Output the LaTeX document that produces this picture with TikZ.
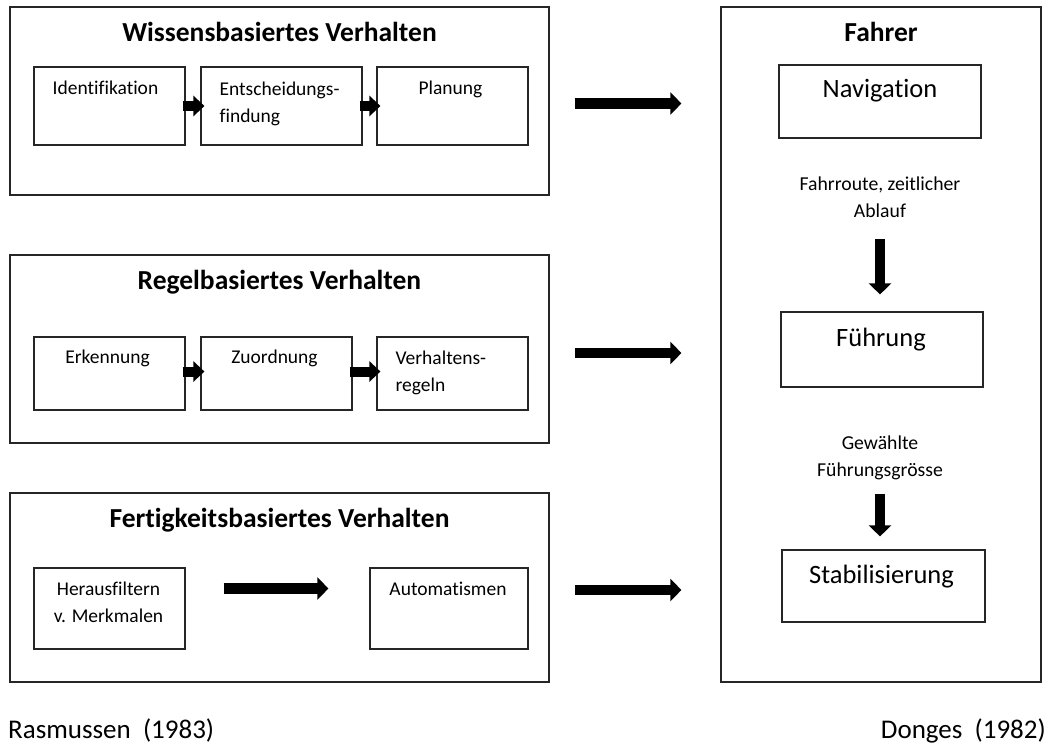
\documentclass[tikz,border=0pt]{standalone}
\usepackage{fontspec}
\setmainfont{Carlito}[Ligatures=CommonOff]
\usetikzlibrary{arrows.meta,calc}
\begin{document}
\begin{tikzpicture}[x=1pt,y=-1pt,
  box/.style={draw=black!85,line width=1.2pt,rectangle,inner sep=0pt},
  ttl/.style={font=\fontsize{27.5}{32}\selectfont\bfseries,anchor=base,inner sep=0pt},
  itext/.style={font=\fontsize{19.5}{27}\selectfont,anchor=base,align=center,inner sep=0pt},
  ltext/.style={font=\fontsize{19.5}{27}\selectfont,anchor=base west,align=left,inner sep=0pt},
  btext/.style={font=\fontsize{26.5}{32}\selectfont,anchor=base,inner sep=0pt},
  stext/.style={font=\fontsize{19.7}{27}\selectfont,anchor=base,align=center,inner sep=0pt},
  ftext/.style={font=\fontsize{27}{32}\selectfont,inner sep=0pt},
  blockarrow/.style={line width=10.5pt,-{Triangle[length=11pt,width=22pt]}},
  smallarrow/.style={line width=10pt,-{Triangle[length=11pt,width=20pt]},shorten <=-3pt,shorten >=-4pt},
]
\useasboundingbox (0,0) rectangle (1048,745);
% outer boxes
\node[box,minimum width=539pt,minimum height=188pt] (wiss) at (279.5,101) {};
\node[box,minimum width=539pt,minimum height=188pt] (regel) at (279.5,349) {};
\node[box,minimum width=539pt,minimum height=189pt] (fert) at (279.5,587.5) {};
\node[box,minimum width=320pt,minimum height=675pt] (fahrer) at (881,344.5) {};
% titles
\node[ttl] (t1) at ($(wiss.north)+(0,35)$) {Wissensbasiertes Verhalten};
\node[ttl] (t2) at ($(regel.north)+(0,35)$) {Regelbasiertes Verhalten};
\node[ttl] (t3) at ($(fert.north)+(0,35)$) {Fertigkeitsbasiertes Verhalten};
\node[ttl] (t4) at ($(fahrer.north)+(0,35)$) {Fahrer};
% Wissens inner
\node[box,minimum width=151pt,minimum height=78pt] (id) at (109.5,106) {};
\node[box,minimum width=161pt,minimum height=78pt] (ent) at (281.5,106) {};
\node[box,minimum width=151pt,minimum height=78pt] (plan) at (452.5,106) {};
\node[itext] (idt) at ($(id.north)+(-4,28)$) {Identifikation};
\node[ltext] (entt) at ($(ent.west)+(19,16)$) {Entscheidungs-\\findung};
\node[itext] (plant) at ($(plan.north)+(-2,28)$) {Planung};
% Regel inner
\node[box,minimum width=151pt,minimum height=73pt] (erk) at (109.5,373.5) {};
\node[box,minimum width=151pt,minimum height=73pt] (zuo) at (276.5,373.5) {};
\node[box,minimum width=151pt,minimum height=73pt] (ver) at (452.5,373.5) {};
\node[itext] (erkt) at ($(erk.north)+(-2,27)$) {Erkennung};
\node[itext] (zuot) at ($(zuo.north)+(-2,27)$) {Zuordnung};
\node[ltext] (vert) at ($(ver.west)+(19,17.5)$) {Verhaltens-\\regeln};
% Fertig inner
\node[box,minimum width=151pt,minimum height=81pt] (her) at (109.5,608.5) {};
\node[box,minimum width=158pt,minimum height=81pt] (aut) at (449,608.5) {};
\node[itext] (hert) at ($(her.north)+(-1,55)$) {Herausfiltern\\v. Merkmalen};
\node[itext] (autt) at ($(aut.north)+(-1,28)$) {Automatismen};
% Fahrer inner
\node[box,minimum width=202pt,minimum height=73pt] (nav) at (880,101.5) {};
\node[box,minimum width=202pt,minimum height=75pt] (fue) at (882,349.5) {};
\node[box,minimum width=203pt,minimum height=72pt] (sta) at (883.5,586) {};
\node[btext] (navt) at ($(nav.north)+(0,33)$) {Navigation};
\node[btext] (fuet) at ($(fue.north)+(-1,35)$) {Führung};
\node[btext] (stat) at ($(sta.north)+(-2,34)$) {Stabilisierung};
\node[stext] (l1) at (880,217) {Fahrroute, zeitlicher\\Ablauf};
\node[stext] (l2) at (880,476) {Gewählte\\Führungsgrösse};
% bottom
\node[ftext,anchor=base west] (ras) at (8,738) {Rasmussen\ \ (1983)};
\node[ftext,anchor=base east] (don) at (1046,738) {Donges\ \ (1982)};
% small arrows
\draw[smallarrow] (id.east) -- (ent.west);
\draw[smallarrow] (ent.east) -- (plan.west);
\draw[smallarrow] ([yshift=2pt]erk.east) -- ([yshift=2pt]zuo.west);
\draw[smallarrow] ([yshift=2pt]zuo.east) -- ([yshift=2pt]ver.west);
\draw[blockarrow,shorten <=38pt,shorten >=41pt] ([yshift=20pt]her.east) -- ([yshift=20pt]aut.west);
% big arrows
\draw[blockarrow,shorten <=25pt,shorten >=39pt] ([yshift=-2.5pt]wiss.east) -- ([yshift=-2.5pt]wiss.east -| fahrer.west);
\draw[blockarrow,shorten <=25pt,shorten >=39pt] ([yshift=-4pt]regel.east) -- ([yshift=-4pt]regel.east -| fahrer.west);
\draw[blockarrow,shorten <=25pt,shorten >=39pt] ([yshift=-2.5pt]fert.east) -- ([yshift=-2.5pt]fert.east -| fahrer.west);
% down arrows
\draw[blockarrow,line width=10pt,shorten <=100pt,shorten >=17pt] (nav.south) -- (nav.south |- fue.north);
\draw[blockarrow,line width=10pt,shorten <=106pt,shorten >=13pt] (nav.south |- fue.south) -- (nav.south |- sta.north);
\end{tikzpicture}
\end{document}
